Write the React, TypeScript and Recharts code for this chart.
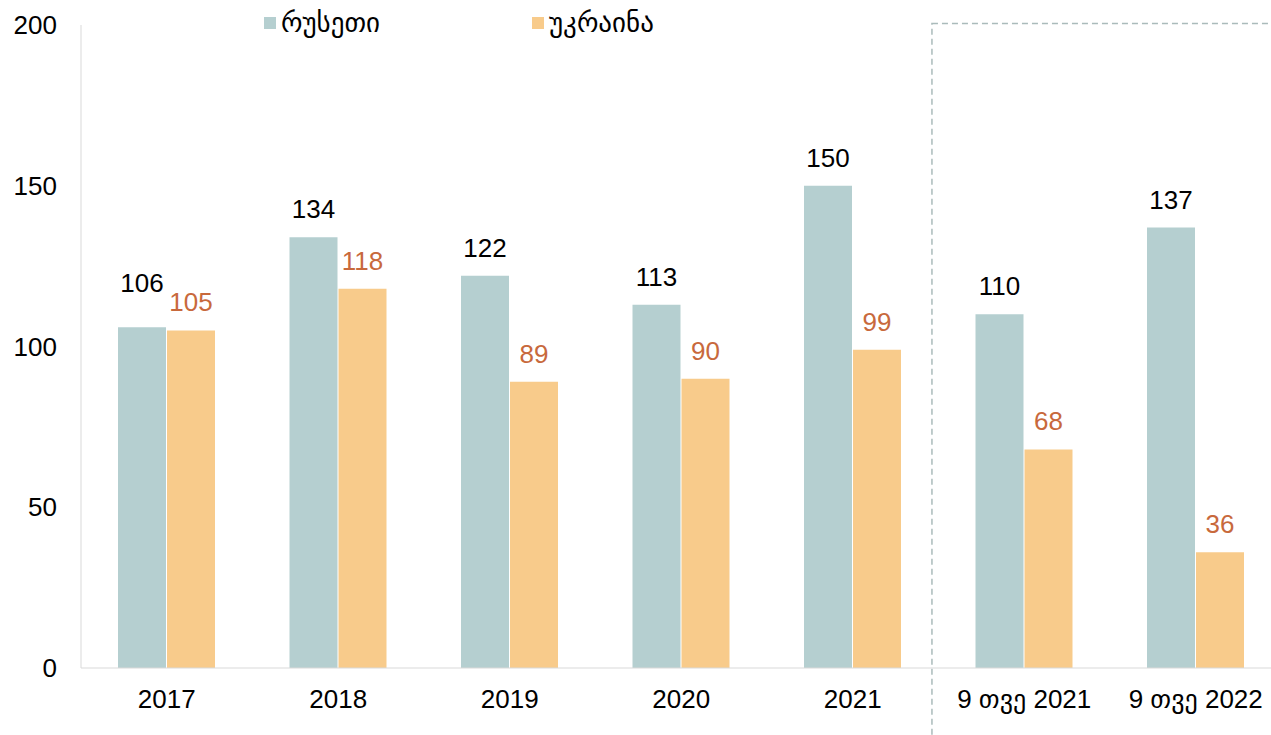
import { Bar, BarChart, LabelList, Legend, ReferenceArea, XAxis, YAxis } from 'recharts';

const categories = ['2017', '2018', '2019', '2020', '2021', '9 თვე 2021', '9 თვე 2022'];
const russia = [106, 134, 122, 113, 150, 110, 137];
const ukraine = [105, 118, 89, 90, 99, 68, 36];
const yTicks = [0, 50, 100, 150, 200];

const RU_COLOR = '#b5cfd0';
const UA_COLOR = '#f8cb8b';
const UA_LABEL = '#c8693c';
const FONT = '"Liberation Sans", Arial, "DejaVu Sans", sans-serif';

// the hidden frame axis runs 0..6 across the plot; the dashed "9 months" box starts here
const FRAME_START = 4.253;

const rows = categories.map((name, i) => ({ name, russia: russia[i], ukraine: ukraine[i] }));

function makeLabel(color: string, lift: (index: number) => number) {
  return (props: any) => {
    const { x, y, width, value, index } = props;
    return (
      <text
        x={Number(x) + Number(width) / 2}
        y={Number(y) - 19 - lift(index)}
        textAnchor="middle"
        fill={color}
        fontSize={26}
        fontFamily={FONT}
      >
        {value}
      </text>
    );
  };
}

// lift the russia label when both bars are about the same height, so labels don't collide
const ruLift = (i: number) => (Math.abs(russia[i] - ukraine[i]) < 5 ? 16 : 0);

function LegendContent() {
  const items = [
    { label: 'რუსეთი', color: RU_COLOR },
    { label: 'უკრაინა', color: UA_COLOR },
  ];
  return (
    <div style={{ display: 'flex', fontFamily: FONT }}>
      {items.map((it) => (
        <div key={it.label} style={{ display: 'flex', alignItems: 'center', width: 268 }}>
          <span style={{ width: 12, height: 12, background: it.color, marginRight: 5 }} />
          <span style={{ fontSize: 27, color: '#000', lineHeight: '46px' }}>{it.label}</span>
        </div>
      ))}
    </div>
  );
}

export default function App() {
  return (
    <div
      style={{
        position: 'absolute',
        left: 0,
        top: 0,
        width: 1271,
        height: 735,
        overflow: 'hidden',
        background: '#fff',
      }}
    >
      <BarChart
        width={1300}
        height={735}
        data={rows}
        margin={{ top: 25, right: 18.5, left: 0, bottom: 0 }}
        barSize={48}
        barGap={1}
      >
        <XAxis
          dataKey="name"
          height={67}
          tickLine={false}
          tickSize={0}
          tickMargin={22}
          axisLine={{ stroke: '#d9d9d9' }}
          tick={{ fill: '#000', fontSize: 26, fontFamily: FONT }}
        />
        <XAxis xAxisId="frame" type="number" domain={[0, 6]} allowDataOverflow hide />
        <YAxis
          domain={[0, 200]}
          ticks={yTicks}
          width={81}
          tickLine={false}
          tickSize={0}
          tickMargin={24}
          axisLine={{ stroke: '#d9d9d9' }}
          tick={{ fill: '#000', fontSize: 26, fontFamily: FONT }}
        />
        <Legend
          layout="horizontal"
          verticalAlign="middle"
          wrapperStyle={{ top: 0, left: 264, width: 600 }}
          content={<LegendContent />}
        />
        <ReferenceArea
          xAxisId="frame"
          x1={FRAME_START}
          x2={6.3}
          y1={-30}
          y2={200.5}
          fill="none"
          stroke="#aabbbb"
          strokeWidth={1.5}
          strokeDasharray="6 4"
          ifOverflow="visible"
        />
        <Bar dataKey="russia" fill={RU_COLOR} isAnimationActive={false}>
          <LabelList dataKey="russia" content={makeLabel('#000', ruLift)} />
        </Bar>
        <Bar dataKey="ukraine" fill={UA_COLOR} isAnimationActive={false}>
          <LabelList dataKey="ukraine" content={makeLabel(UA_LABEL, () => 0)} />
        </Bar>
      </BarChart>
    </div>
  );
}
